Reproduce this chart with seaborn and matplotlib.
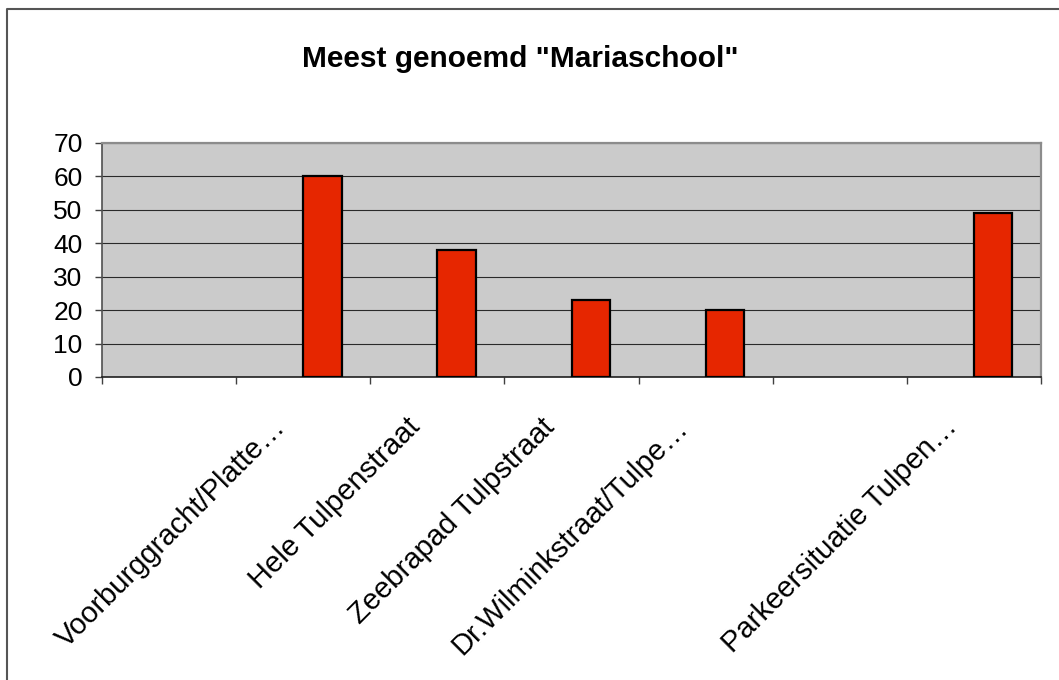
import numpy as np
import pandas as pd
import matplotlib
matplotlib.use("Agg")
import matplotlib.pyplot as plt
import matplotlib.transforms as mtransforms
from matplotlib.lines import Line2D
import seaborn as sns

# ---- data ----
categories = ["", "Voorburggracht/Platte…", "Hele Tulpenstraat", "Zeebrapad Tulpstraat",
              "Dr.Wilminkstraat/Tulpe…", " ", "Parkeersituatie Tulpen…"]
series_names = ["Reeks1", "Reeks2"]
values_reeks1 = [np.nan] * 7
values_reeks2 = [np.nan, 60, 38, 23, 20, np.nan, 49]
y_ticks = [0, 10, 20, 30, 40, 50, 60, 70]
title = 'Meest genoemd "Mariaschool"'

df = pd.DataFrame({
    "category": categories * 2,
    "series": [series_names[0]] * 7 + [series_names[1]] * 7,
    "value": values_reeks1 + values_reeks2,
})

sns.set_style("white")
plt.rcParams["font.family"] = ["Liberation Sans", "DejaVu Sans"]
plt.rcParams["text.color"] = "black"
plt.rcParams["xtick.color"] = "black"
plt.rcParams["ytick.color"] = "black"
plt.rcParams["xtick.labelcolor"] = "black"
plt.rcParams["ytick.labelcolor"] = "black"

W, H = 1059, 680
fig = plt.figure(figsize=(W / 100, H / 100), dpi=100)
ax = fig.add_axes([102 / W, 1 - 377 / H, (1041 - 102) / W, (377 - 143) / H])
ax.set_facecolor("#cbcbcb")

sns.barplot(data=df, x="category", y="value", hue="series", hue_order=series_names,
            order=categories, palette={"Reeks1": "#3333cc", "Reeks2": "#e62600"},
            saturation=1, width=0.5714, edgecolor="black", linewidth=1.6,
            errorbar=None, legend=False, ax=ax, zorder=3)

ax.set_ylim(0, 70)
ax.set_xlim(-0.5, len(categories) - 0.5)
ax.set_yticks(y_ticks)
ax.set_yticklabels([str(v) for v in y_ticks], fontsize=19)
ax.yaxis.grid(True, color="#2a2a2a", linewidth=0.8, zorder=1)
ax.set_axisbelow(True)
ax.set_xlabel("")
ax.set_ylabel("")

# x: major ticks at slot boundaries, labels at slot centres
ax.set_xticks(np.arange(-0.5, len(categories), 1))
ax.set_xticklabels([])
ax.set_xticks(np.arange(len(categories)), minor=True)
ax.set_xticklabels(categories, minor=True, rotation=45, ha="right", va="baseline",
                   rotation_mode="anchor", fontsize=21)
ax.tick_params(axis="x", which="major", length=5, width=1, color="#404040",
               direction="out", bottom=True)
ax.tick_params(axis="x", which="minor", length=0, pad=37)
ax.tick_params(axis="y", length=5, width=1, color="#404040", direction="out",
               left=True, pad=9)

offset = mtransforms.ScaledTranslation(-16 / 100, 0, fig.dpi_scale_trans)
for lab in ax.get_xticklabels(minor=True):
    lab.set_transform(lab.get_transform() + offset)

for side in ["left", "top", "right"]:
    ax.spines[side].set_color("#8c8c8c")
    ax.spines[side].set_linewidth(1.6)
ax.spines["bottom"].set_color("#202020")
ax.spines["bottom"].set_linewidth(1.2)
ax.spines["left"].set_color("#505050")
ax.spines["left"].set_linewidth(1.2)

fig.text(520 / W, 1 - 67 / H, title, ha="center", va="baseline",
         fontsize=21.5, fontweight="bold", color="black")

# chart area border (only left and top visible)
x0, y0 = 7 / W, 1 - 9 / H
fig.add_artist(Line2D([x0, x0, 1.01], [-0.01, y0, y0], color="#555555",
                      linewidth=1.5, transform=fig.transFigure))

fig.savefig("out.png", dpi=100, facecolor="white")
